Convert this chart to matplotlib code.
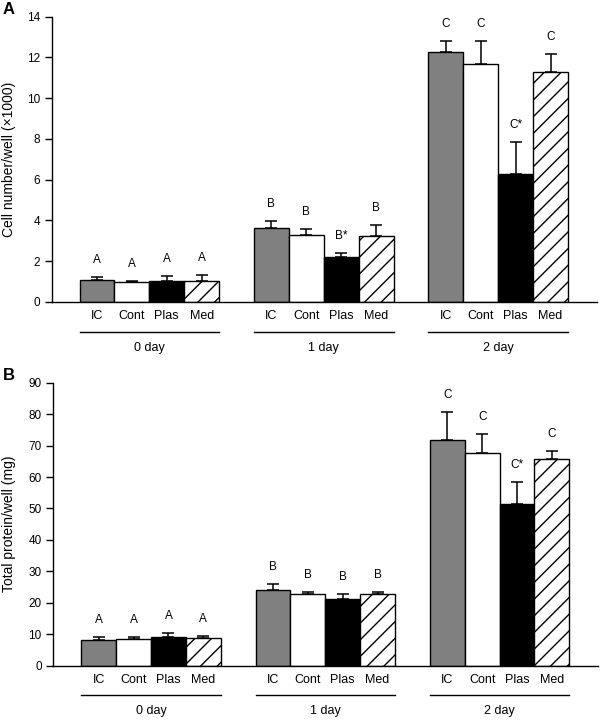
import matplotlib
matplotlib.use("Agg")
import matplotlib.pyplot as plt
from matplotlib.lines import Line2D
import numpy as np

plt.rcParams['font.family'] = ['Liberation Sans', 'DejaVu Sans']
plt.rcParams['hatch.linewidth'] = 1.0

treatments = ["IC", "Cont", "Plas", "Med"]
days = ["0 day", "1 day", "2 day"]
colors = ["#808080", "white", "black", "white"]
hatches = ["", "", "", "//"]

# Panel A: cell number/well (x1000); rows = days, cols = treatments
cell_mean = [[1.08, 0.98, 1.03, 1.03],
             [3.65, 3.29, 2.19, 3.24],
             [12.26, 11.69, 6.29, 11.28]]
cell_err = [[0.16, 0.05, 0.25, 0.28],
            [0.33, 0.28, 0.20, 0.54],
            [0.57, 1.14, 1.58, 0.89]]
cell_lab = [["A", "A", "A", "A"],
            ["B", "B", "B*", "B"],
            ["C", "C", "C*", "C"]]

# Panel B: total protein/well (mg)
prot_mean = [[8.2, 8.6, 9.2, 8.7],
             [24.1, 22.7, 21.3, 22.7],
             [71.8, 67.7, 51.4, 65.7]]
prot_err = [[1.0, 0.6, 1.1, 0.85],
            [1.8, 0.8, 1.4, 0.8],
            [8.8, 6.1, 7.1, 2.6]]
prot_lab = [["A", "A", "A", "A"],
            ["B", "B", "B", "B"],
            ["C", "C", "C*", "C"]]

fig = plt.figure(figsize=(6.0, 7.2), dpi=100)
axA = fig.add_axes([0.086, 0.5806, 0.909, 0.3962])
axB = fig.add_axes([0.089, 0.0754, 0.908, 0.3931])


def draw(ax, mean, err, labs, ymax, ystep, ylabel, letter, lab_x, let_x):
    for g in range(len(days)):
        xs = np.arange(len(treatments)) + g * 5
        for i in range(len(treatments)):
            ax.bar(xs[i], mean[g][i], width=1.0, color=colors[i],
                   edgecolor="black", linewidth=1.0, hatch=hatches[i], zorder=2)
            ax.errorbar(xs[i], mean[g][i], yerr=[[0], [err[g][i]]], fmt="none",
                        ecolor="black", elinewidth=1.1, capsize=4.5,
                        capthick=1.1, zorder=3)
            ax.annotate(labs[g][i], xy=(xs[i], mean[g][i] + err[g][i]),
                        xytext=(0, 10), textcoords="offset points",
                        ha="center", va="baseline", fontsize=8.5)
            ax.text(xs[i], -0.049, treatments[i], transform=ax.get_xaxis_transform(),
                    ha="center", va="center", fontsize=9)
        ax.add_line(Line2D([xs[0] - 0.5, xs[-1] + 0.5], [-0.105, -0.105],
                           transform=ax.get_xaxis_transform(), color="black",
                           linewidth=1.0, clip_on=False))
        ax.text(xs.mean(), -0.161, days[g], transform=ax.get_xaxis_transform(),
                ha="center", va="center", fontsize=9)
    ax.set_xlim(-1.3, 14.33)
    ax.set_ylim(0, ymax)
    ax.set_yticks(np.arange(0, ymax + 0.01, ystep))
    ax.set_xticks([])
    for s in ["top", "right"]:
        ax.spines[s].set_visible(False)
    ax.spines["left"].set_linewidth(1.0)
    ax.spines["bottom"].set_linewidth(1.0)
    ax.tick_params(axis="y", direction="out", length=5, width=1.0,
                   labelsize=8.5, pad=3.4)
    ax.set_ylabel(ylabel, fontsize=10)
    ax.yaxis.set_label_coords(lab_x, 0.5)
    ax.text(let_x, 1.027, letter, transform=ax.transAxes, fontsize=12,
            fontweight="bold", ha="center", va="center")


draw(axA, cell_mean, cell_err, cell_lab, 14, 2,
     "Cell number/well (\u00d71000)", "A", -0.0655, -0.078)
draw(axB, prot_mean, prot_err, prot_lab, 90, 10,
     "Total protein/well (mg)", "B", -0.0685, -0.081)

fig.savefig("out.png", dpi=100)
